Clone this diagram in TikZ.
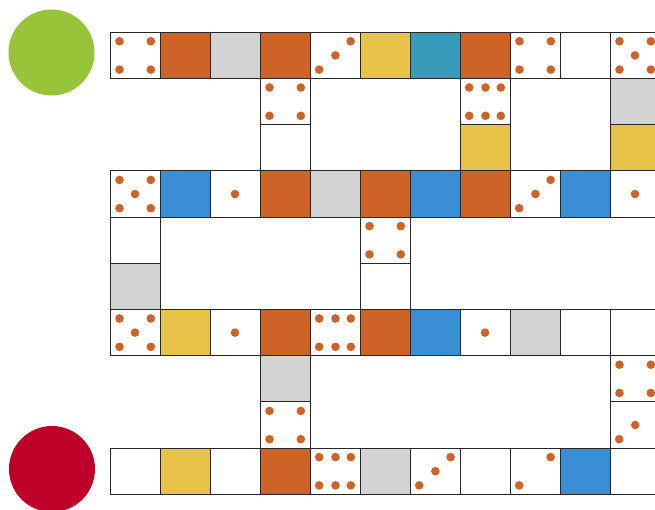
\documentclass[tikz,border=0pt]{standalone}
\usetikzlibrary{calc}
\definecolor{cOrange}{HTML}{CD6327}
\definecolor{cGrey}{HTML}{D3D3D3}
\definecolor{cYellow}{HTML}{E8C349}
\definecolor{cTeal}{HTML}{389BB9}
\definecolor{cBlue}{HTML}{3A8ED3}
\definecolor{cGreen}{HTML}{98C43A}
\definecolor{cRed}{HTML}{BE0028}
\tikzset{
  cell/.style={draw=black!85,line width=0.9pt,rectangle,minimum width=50pt,minimum height=46.2pt,inner sep=0pt,outer sep=0pt,anchor=north west},
  plain/.style={fill=white},
  orange/.style={fill=cOrange},
  grey/.style={fill=cGrey},
  yellow/.style={fill=cYellow},
  teal/.style={fill=cTeal},
  blue/.style={fill=cBlue},
  pipc/.style={fill=cOrange},
  token/.style={circle,minimum size=86pt,inner sep=0pt}
}
\begin{document}
\begin{tikzpicture}[x=1pt,y=-1pt]
\useasboundingbox (0,0) rectangle (655,509);
\clip (0,0) rectangle (655,509);
\node[token,fill=cGreen] (start) at (51.5,52.5) {};
\node[token,fill=cRed] (finish) at (52,469) {};
\foreach \c/\r/\s in {
 0/0/plain,1/0/orange,2/0/grey,3/0/orange,4/0/plain,5/0/yellow,6/0/teal,7/0/orange,8/0/plain,9/0/plain,10/0/plain,
 3/1/plain,7/1/plain,10/1/grey,
 3/2/plain,7/2/yellow,10/2/yellow,
 0/3/plain,1/3/blue,2/3/plain,3/3/orange,4/3/grey,5/3/orange,6/3/blue,7/3/orange,8/3/plain,9/3/blue,10/3/plain,
 0/4/plain,5/4/plain,
 0/5/grey,5/5/plain,
 0/6/plain,1/6/yellow,2/6/plain,3/6/orange,4/6/plain,5/6/orange,6/6/blue,7/6/plain,8/6/grey,9/6/plain,10/6/plain,
 3/7/grey,10/7/plain,
 3/8/plain,10/8/plain,
 0/9/plain,1/9/yellow,2/9/plain,3/9/orange,4/9/plain,5/9/grey,6/9/plain,7/9/plain,8/9/plain,9/9/blue,10/9/plain}
 {\node[cell,\s] (s\c-\r) at ({110+50*\c},{32.3+46.2*\r}) {};}
% pips
\foreach \n in {0-0,8-0,3-1,5-4,10-7,3-8}
 {\foreach \px/\py in {9.5/9,40.8/9,9.5/37.3,40.8/37.3}
   {\fill[pipc] ($(s\n.north west)+(\px,\py)$) circle (4.3);}}
\foreach \n in {10-0,0-3,0-6}
 {\foreach \px/\py in {9.5/9,40.8/9,9.5/37.3,40.8/37.3,25/23.1}
   {\fill[pipc] ($(s\n.north west)+(\px,\py)$) circle (4.3);}}
\foreach \n in {7-1,4-6,4-9}
 {\foreach \px/\py in {9.2/9,25.5/9,40.8/9,9.2/37.3,25.5/37.3,40.8/37.3}
   {\fill[pipc] ($(s\n.north west)+(\px,\py)$) circle (4.3);}}
\foreach \n in {4-0,8-3,6-9}
 {\foreach \px/\py in {9.2/37.3,25.4/23.1,40.6/9}
   {\fill[pipc] ($(s\n.north west)+(\px,\py)$) circle (4.3);}}
\foreach \n in {2-3,10-3,2-6,7-6}
 {\fill[pipc] ($(s\n.north west)+(25,23.1)$) circle (4.3);}
\foreach \px/\py in {9.2/37.3,40.6/9}
 {\fill[pipc] ($(s8-9.north west)+(\px,\py)$) circle (4.3);}
\foreach \px/\py in {9.2/37.3,25.2/23.1}
 {\fill[pipc] ($(s10-8.north west)+(\px,\py)$) circle (4.3);}
\end{tikzpicture}
\end{document}
